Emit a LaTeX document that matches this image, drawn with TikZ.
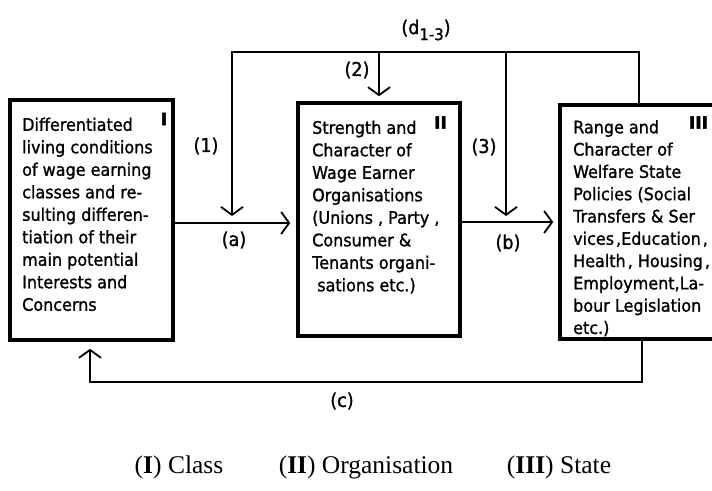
\documentclass[tikz,border=0pt]{standalone}
\usepackage{fontspec}
\setmainfont{Liberation Serif}
\newfontfamily\boxfont[FakeBold=1.2,FakeStretch=0.93]{DejaVu Sans}
\newfontfamily\numfont[FakeBold=2.5]{DejaVu Sans}
\usetikzlibrary{arrows.meta}
\tikzset{
  bigbox/.style={draw, line width=3.5pt, inner sep=0pt},
  boxtext/.style={anchor=north west, inner sep=0pt, align=left,
    font=\boxfont\fontsize{17.2}{22.5}\selectfont},
  numeral/.style={inner sep=0pt, font=\numfont\bfseries\fontsize{17}{17}\selectfont},
  lbl/.style={inner sep=0pt, font=\boxfont\fontsize{19}{22}\selectfont},
  conn/.style={line width=1.8pt, line join=miter},
  arr/.style={conn, -{Straight Barb[length=8pt,width=22pt,line width=1.8pt]}},
  caption/.style={inner sep=0pt, font=\fontsize{25.5}{28}\selectfont}
}
\begin{document}
\begin{tikzpicture}[x=1pt,y=-1pt]
\useasboundingbox (0,0) rectangle (712,490);
\clip (0,0) rectangle (712,490);

% boxes
\node[bigbox, minimum width=163pt, minimum height=240pt] (B1) at (91.5,220) {};
\node[bigbox, minimum width=162pt, minimum height=233pt] (B2) at (379,219.5) {};
\node[bigbox, minimum width=180pt, minimum height=234pt] (B3) at (650,222) {};

% box texts
\node[boxtext] (T1) at (22,117.5) {Differentiated\\living conditions\\of wage earning\\classes and re-\\sulting differen-\\tiation of their\\main potential\\Interests and\\Concerns};
\node[boxtext] (T2) at (312,120.5) {Strength and\\Character of\\Wage Earner\\Organisations\\(Unions , Party ,\\Consumer \&\\Tenants organi-\\\ sations etc.)};
\node[boxtext, font=\boxfont\fontsize{17.2}{22.3}\selectfont] (T3) at (573,120) {Range and\\Character of\\Welfare State\\Policies (Social\\Transfers \& Ser\\vices\kern2pt,Education\kern2pt,\\Health\kern2pt, Housing\kern2pt,\\Employment,La-\\bour Legislation\\etc.)};

% numerals
\node[numeral] (N1) at (164,119) {I};
\node[numeral] (N2) at (440.5,122.5) {II};
\node[numeral] (N3) at (698.5,122.5) {III};

% coordinates of connector corners
\coordinate (tl) at (232,52);
\coordinate (tm) at (379,52);
\coordinate (tb) at (506,52);
\coordinate (tr) at (639,52);
\coordinate (ta) at (232,216);
\coordinate (t3) at (506,216);
\coordinate (ya) at (0,223);
\coordinate (yb) at (0,222);
\coordinate (cr) at (642,382);
\coordinate (cl) at (90,382);

% feedback (d)
\draw[arr] (B3.north -| tr) -- (tr) -- (tl) -- (ta);
\draw[arr] (tm) -- ([yshift=5pt]B2.north);
\draw[arr] (tb) -- (t3);

% (a), (b)
\draw[arr] (B1.east |- ya) -- ([xshift=-6pt]B2.west |- ya);
\draw[arr] (B2.east |- yb) -- ([xshift=-5pt]B3.west |- yb);

% (c)
\draw[arr] (B3.south -| cr) -- (cr) -- (cl) -- ([yshift=-7pt]B1.south -| cl);

% labels
\node[lbl] (L1) at (206,146) {(1)};
\node[lbl] (L2) at (357,70) {(2)};
\node[lbl] (L3) at (484,147) {(3)};
\node[lbl] (La) at (234,240) {(a)};
\node[lbl] (Lb) at (508,243) {(b)};
\node[lbl] (Lc) at (342,401) {(c)};
\node[lbl] (Ld) at (426,30) {(d\raisebox{-6pt}{\fontsize{16}{16}\selectfont 1-3})};

% captions
\node[caption] (C1) at (179,467) {(\textbf{I}) Class};
\node[caption] (C2) at (366,467) {(\textbf{II}) Organisation};
\node[caption] (C3) at (559,467) {(\textbf{III}) State};
\end{tikzpicture}
\end{document}
